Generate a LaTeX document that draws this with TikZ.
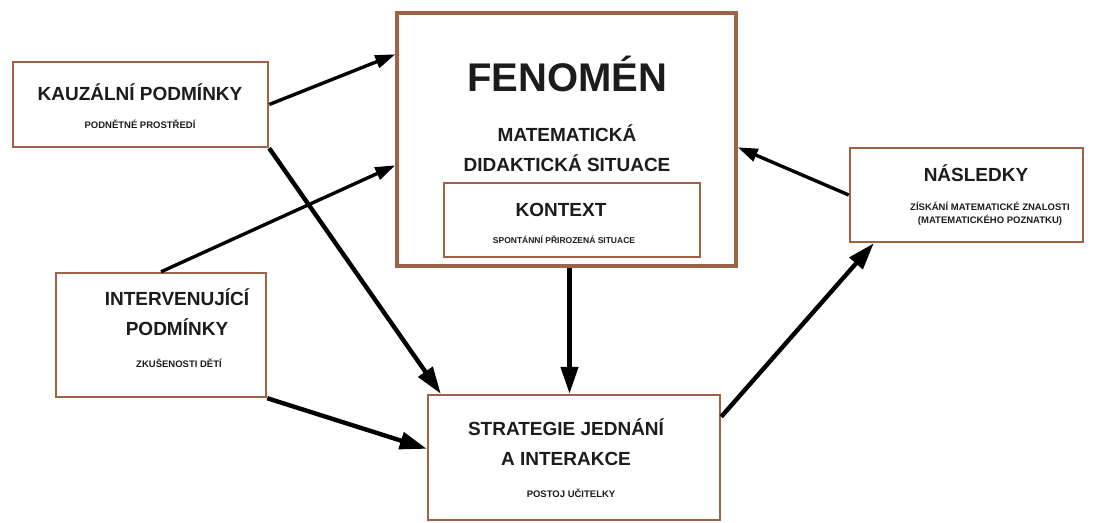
\documentclass[tikz,border=0pt]{standalone}
\usepackage{fontspec}
\setmainfont{Liberation Sans}
\usetikzlibrary{arrows.meta,calc}
\definecolor{boxbrown}{RGB}{160,98,70}
\definecolor{ink}{RGB}{28,28,28}
\begin{document}
\begin{tikzpicture}[x=1pt,y=-1pt,
  box/.style={draw=boxbrown,line width=2.4pt,inner sep=0pt,fill=white},
  bigtxt/.style={font=\bfseries\fontsize{19}{30}\selectfont,text=ink,align=center,inner sep=0pt},
  smalltxt/.style={font=\bfseries\fontsize{9.5}{13}\selectfont,text=ink,align=center,inner sep=0pt},
  arr/.style={-{Triangle[length=27pt,width=17pt]},line width=4.4pt,black},
  thinarr/.style={-{Triangle[length=20pt,width=13pt]},line width=3.4pt,black}]
\fill[white] (0,0) rectangle (1094,522);
\useasboundingbox (0,0) rectangle (1094,522);
% boxes
\node[box,minimum width=255pt,minimum height=85pt] (kauz) at (140.5,104.5) {};
\node[box,line width=3.4pt,minimum width=339pt,minimum height=253pt] (fen) at (566.5,139.5) {};
\node[box,minimum width=256pt,minimum height=74pt] (kon) at (572,220) {};
\node[box,minimum width=233pt,minimum height=94pt] (nas) at (966.5,195) {};
\node[box,minimum width=210pt,minimum height=124pt] (int) at (161,335) {};
\node[box,minimum width=292pt,minimum height=125pt] (str) at (574,457.5) {};
% texts
\node[bigtxt] (kauzT) at (140,92) {KAUZÁLNÍ PODMÍNKY};
\node[smalltxt] (kauzS) at (140,124) {PODNĚTNÉ PROSTŘEDÍ};
\node[font=\bfseries\fontsize{40}{44}\selectfont,text=ink,inner sep=0pt] (fenT) at (567,74) {FENOMÉN};
\node[bigtxt] (fenS) at (567,148) {MATEMATICKÁ\\DIDAKTICKÁ SITUACE};
\node[bigtxt] (konT) at (561,210) {KONTEXT};
\node[smalltxt,font=\bfseries\fontsize{8.5}{11}\selectfont] (konS) at (564,240) {SPONTÁNNÍ PŘIROZENÁ SITUACE};
\node[bigtxt] (nasT) at (976,173) {NÁSLEDKY};
\node[smalltxt] (nasS) at (990,214) {ZÍSKÁNÍ MATEMATICKÉ ZNALOSTI\\(MATEMATICKÉHO POZNATKU)};
\node[bigtxt] (intT) at (177,312) {INTERVENUJÍCÍ\\PODMÍNKY};
\node[smalltxt] (intS) at (179,363) {ZKUŠENOSTI DĚTÍ};
\node[bigtxt] (strT) at (566,442) {STRATEGIE JEDNÁNÍ\\A INTERAKCE};
\node[smalltxt] (strS) at (571,493) {POSTOJ UČITELKY};
% connector end points
\coordinate (fenA) at ($(fen.north west)+(0,43)$);
\coordinate (fenB) at ($(fen.north west)+(0,154)$);
\coordinate (fenC) at ($(fen.north east)+(0,136)$);
\coordinate (strA) at ($(str.north west)+(14,0)$);
\coordinate (strB) at ($(str.north west)+(0,55)$);
\coordinate (strC) at ($(str.north east)+(0,23)$);
\coordinate (nasA) at ($(nas.south west)+(25,0)$);
\coordinate (fenD) at ($(fen.south)+(3,0)$);
\coordinate (strD) at (fenD |- str.north);
% connectors
\draw[thinarr] (kauz.east) -- (fenA);
\draw[arr] (kauz.south east) -- (strA);
\draw[thinarr] (int.north) -- (fenB);
\draw[arr] (int.south east) -- (strB);
\draw[arr] (fenD) -- (strD);
\draw[arr] (strC) -- (nasA);
\draw[thinarr] (nas.west) -- (fenC);
\end{tikzpicture}
\end{document}
